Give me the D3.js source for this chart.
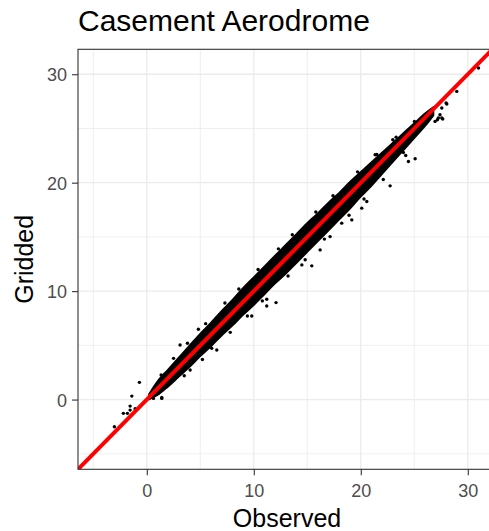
<!DOCTYPE html>
<html><head><meta charset="utf-8">
<script src="https://cdn.jsdelivr.net/npm/d3@7"></script>
<style>body{margin:0;background:#fff}svg{display:block}</style>
</head><body>
<script>
// ---- data ----
const title = "Casement Aerodrome";
const xLabel = "Observed";
const yLabel = "Gridded";
const xTicks = [0, 10, 20, 30];
const yTicks = [0, 10, 20, 30];
const minorTicks = [-5, 5, 15, 25];
const domain = [-6.43, 32.3];
// dense band of points: observed value with lower/upper gridded extent
const bandObs = [0.2, 1, 2, 3, 4, 5, 6, 7, 8, 9, 10, 11, 12, 13, 14, 15, 16, 17, 18, 19, 20, 21, 22, 23, 24, 25, 26, 26.8];
const bandLo  = [0.0, 0.4, 1.2, 2.1, 3.0, 4.0, 4.9, 5.9, 6.8, 7.8, 8.7, 9.7, 10.7, 11.6, 12.6, 13.6, 14.6, 15.6, 16.6, 17.6, 18.7, 19.7, 20.8, 21.9, 23.0, 24.1, 25.2, 26.2];
const bandHi  = [0.5, 1.7, 2.8, 3.9, 5.0, 6.1, 7.1, 8.2, 9.2, 10.3, 11.3, 12.3, 13.3, 14.3, 15.3, 16.3, 17.2, 18.2, 19.1, 20.1, 21.0, 21.9, 22.8, 23.7, 24.6, 25.5, 26.4, 27.0];
// scattered points outside the dense band
const ptObs  = [-0.69, -1.40, -2.19, -1.56, -1.56, -1.81, -1.09, -3.03, 0.62, 1.40, 1.34, 4.05, 2.86, 1.40,
                3.11, 4.82, 6.07, 6.54, 9.81, 11.21, 12.08, 11.21, 14.49, 15.42, 16.2, 17.13, 19.16, 20.09, 20.56, 18.22,
                25.08, 22.74, 27.16, 27.57, 28.04, 28.97, 22.99, 21.34, 25.01, 24.45, 23.98, 31.0, 27.97, 27.57, 27.4, 27.66, 26.94, 27.25,
                2.5, 3.8, 5.5, 7.3, 8.6, 10.4, 12.3, 13.6, 15.8, 17.4, 19.7, 21.5, 23.3,
                3.5, 5.2, 7.8, 9.4, 10.8, 13.2, 14.8, 16.6, 18.9, 20.3, 22.1, 24.2];
const ptGrid = [1.59, 0.32, -1.27, -0.60, -0.97, -1.27, -0.85, -2.51, 0.11, 0.11, 2.26, 2.72, 2.10, 0.20,
                5.03, 6.48, 4.73, 4.57, 7.71, 8.63, 8.94, 9.25, 12.42, 12.33, 13.8, 15.03, 16.57, 17.65, 18.26, 16.27,
                22.21, 19.71, 25.81, 25.96, 27.26, 28.42, 23.96, 22.58, 25.65, 21.96, 22.79, 30.58, 27.35, 26.89, 26.27, 25.87, 25.65, 25.96,
                3.8, 5.2, 7.0, 8.9, 10.2, 12.0, 13.9, 15.2, 17.3, 18.8, 21.0, 22.6, 24.2,
                2.2, 3.7, 6.2, 7.7, 9.1, 11.4, 12.9, 14.8, 17.0, 18.5, 20.3, 22.5];

// ---- layout ----
const W = 489, H = 531;
const L = 78, T = 49.3, R = 492.4, B = 469.3;
const svg = d3.select("body").append("svg").attr("width", W).attr("height", H)
  .style("font-family", "'Liberation Sans', Arial, sans-serif");

const x = d3.scaleLinear().domain(domain).range([L, R]);
const y = d3.scaleLinear().domain(domain).range([B, T]);

svg.append("clipPath").attr("id", "clip").append("rect")
  .attr("x", L).attr("y", T).attr("width", R - L).attr("height", B - T);

// grid
const g = svg.append("g");
g.selectAll(".vmin").data(minorTicks).join("line")
  .attr("x1", d => x(d)).attr("x2", d => x(d)).attr("y1", T).attr("y2", B)
  .attr("stroke", "#ebebeb").attr("stroke-width", 0.8);
g.selectAll(".hmin").data(minorTicks).join("line")
  .attr("y1", d => y(d)).attr("y2", d => y(d)).attr("x1", L).attr("x2", R)
  .attr("stroke", "#ebebeb").attr("stroke-width", 0.8);
g.selectAll(".vmaj").data(xTicks).join("line")
  .attr("x1", d => x(d)).attr("x2", d => x(d)).attr("y1", T).attr("y2", B)
  .attr("stroke", "#ebebeb").attr("stroke-width", 1.3);
g.selectAll(".hmaj").data(yTicks).join("line")
  .attr("y1", d => y(d)).attr("y2", d => y(d)).attr("x1", L).attr("x2", R)
  .attr("stroke", "#ebebeb").attr("stroke-width", 1.3);

const plot = svg.append("g").attr("clip-path", "url(#clip)");
// dense band
const band = bandObs.map((o, i) => ({o, lo: bandLo[i], hi: bandHi[i]}));
plot.append("path").datum(band)
  .attr("d", d3.area().x(d => x(d.o)).y0(d => y(d.lo)).y1(d => y(d.hi)).curve(d3.curveCatmullRom))
  .attr("fill", "#000").attr("stroke", "#000").attr("stroke-width", 1.5).attr("stroke-linejoin", "round");
// scattered points
plot.selectAll("circle").data(ptObs.map((o, i) => [o, ptGrid[i]])).join("circle")
  .attr("cx", d => x(d[0])).attr("cy", d => y(d[1])).attr("r", 1.7).attr("fill", "#000");
// identity line
plot.append("line")
  .attr("x1", x(domain[0])).attr("y1", y(domain[0])).attr("x2", x(domain[1])).attr("y2", y(domain[1]))
  .attr("stroke", "#ff0000").attr("stroke-width", 4);

// panel border
svg.append("rect").attr("x", L).attr("y", T).attr("width", R - L).attr("height", B - T)
  .attr("fill", "none").attr("stroke", "#333333").attr("stroke-width", 1.1);

// axes
const xAxis = svg.append("g").attr("transform", `translate(0,${B})`)
  .call(d3.axisBottom(x).tickValues(xTicks).tickSize(6).tickPadding(3).tickFormat(d3.format("d")));
const yAxis = svg.append("g").attr("transform", `translate(${L},0)`)
  .call(d3.axisLeft(y).tickValues(yTicks).tickSize(6).tickPadding(5).tickFormat(d3.format("d")));
[xAxis, yAxis].forEach(a => {
  a.select(".domain").remove();
  a.selectAll(".tick line").attr("stroke", "#333333").attr("stroke-width", 1.1);
  a.selectAll(".tick text").attr("fill", "#4d4d4d").style("font-size", "18px")
    .style("font-family", "'Liberation Sans', Arial, sans-serif");
});
xAxis.selectAll(".tick text").attr("dy", null).attr("y", 27.4);
yAxis.selectAll(".tick text").attr("dy", "0.36em");

// titles
svg.append("text").attr("x", L).attr("y", 30.7).text(title)
  .style("font-size", "30px").attr("fill", "#000");
svg.append("text").attr("x", 287).attr("y", 526.5).attr("text-anchor", "middle").text(xLabel)
  .style("font-size", "25px").attr("fill", "#000");
svg.append("text").attr("transform", `translate(33,${(T + B) / 2}) rotate(-90)`)
  .attr("text-anchor", "middle").text(yLabel).style("font-size", "25px").attr("fill", "#000");
</script>
</body></html>
